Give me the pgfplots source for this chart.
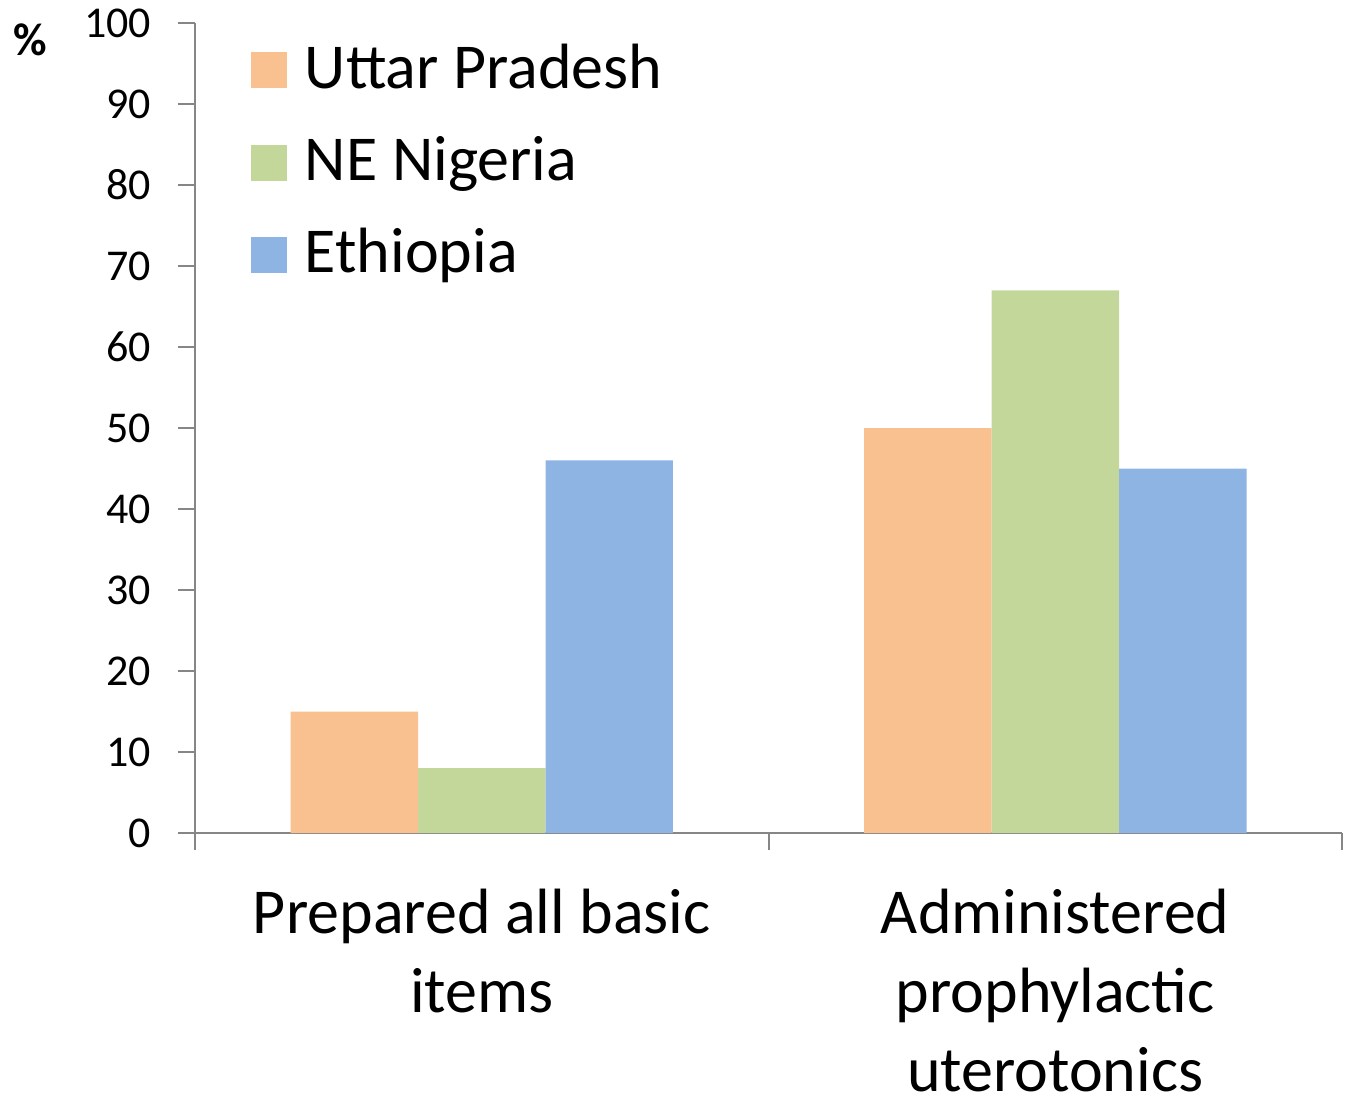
\documentclass[border=0pt]{standalone}
\usepackage{fontspec}
\setmainfont{Carlito}
\usepackage{pgfplots}
\pgfplotsset{compat=1.18}
\definecolor{cUP}{HTML}{F9C090}
\definecolor{cNE}{HTML}{C4D79B}
\definecolor{cET}{HTML}{8EB4E3}
\definecolor{axgray}{HTML}{868686}
\pgfplotsset{sqlegend/.style={legend image code/.code={\fill[##1] (0pt,-3.5pt) rectangle (9pt,5.5pt);}}}
\begin{document}
\begin{tikzpicture}
\begin{axis}[
  scale only axis, width=286.75pt, height=202.5pt,
  xmin=0, xmax=2, ymin=0, ymax=100,
  axis lines=left,
  axis line style={axgray, line width=0.5pt, -},
  ytick={0,10,...,100},
  xtick={0,1,2},
  x tick label as interval,
  xticklabels={{Prepared all basic\\items},{Administered\\prophylactic\\uterotonics}},
  tick align=outside, major tick length=4.25pt,
  tick style={axgray, line width=0.5pt},
  /pgf/number format/assume math mode=true,
  yticklabel style={font=\fontsize{11}{12}\selectfont, inner sep=0pt, xshift=-6.5pt},
  xticklabel style={font=\fontsize{16}{19.75}\selectfont, align=center, inner sep=0pt, yshift=-9.5pt},
  ybar, bar width=0.2223,
  legend style={draw=none, fill=none, at={(rel axis cs:0.0488,0.969)}, anchor=north west,
    inner sep=0pt, outer sep=0pt,
    font=\fontsize{16}{18}\selectfont,
    nodes={inner sep=0pt, text height=10pt, text depth=3pt},
    row sep=10.1pt,
    /tikz/every odd column/.append style={column sep=4.5pt}},
  legend cell align=left,
]
\addplot[fill=cUP, draw=none, bar shift=-0.2223, sqlegend] coordinates {(0.5,15) (1.5,50)};
\addplot[fill=cNE, draw=none, bar shift=0, sqlegend] coordinates {(0.5,8) (1.5,67)};
\addplot[fill=cET, draw=none, bar shift=0.2223, sqlegend] coordinates {(0.5,46) (1.5,45)};
\legend{Uttar Pradesh, NE Nigeria, Ethiopia}
\end{axis}
\node[font=\fontsize{11.5}{12}\selectfont\bfseries] at ([xshift=-41.25pt, yshift=-4.25pt]current axis.north west) {\%};
\pgfresetboundingbox
\path ([xshift=-48.75pt,yshift=-65.5pt]current axis.south west) rectangle ([xshift=1pt,yshift=5.75pt]current axis.north east);
\end{tikzpicture}
\end{document}
